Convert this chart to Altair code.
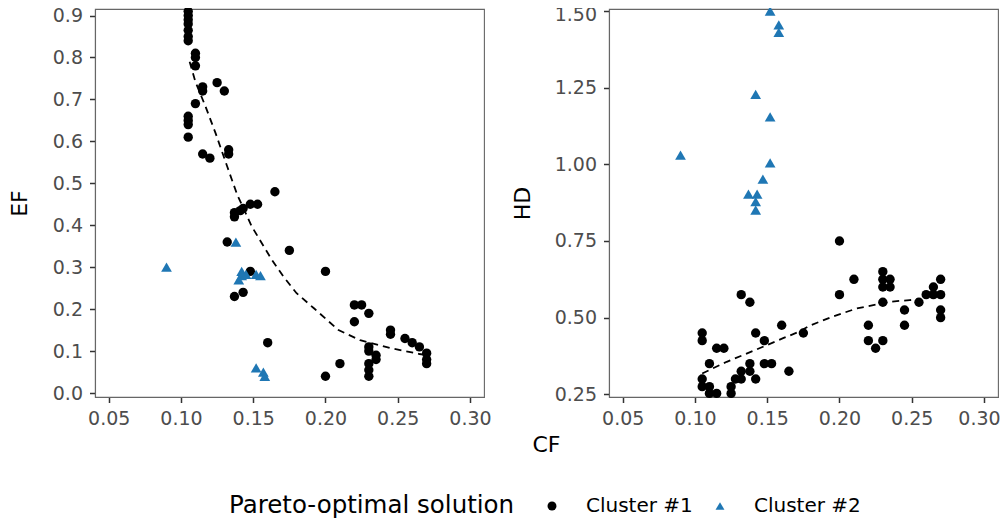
import altair as alt
import pandas as pd

# ---- Left panel: CF vs EF ----
left_c1_cf = [0.105, 0.105, 0.105, 0.105, 0.105, 0.105, 0.105, 0.105, 0.105, 0.105, 0.105,
              0.110, 0.110, 0.110, 0.110,
              0.115, 0.115, 0.115, 0.120, 0.125, 0.130, 0.133, 0.133, 0.132,
              0.137, 0.137, 0.137, 0.141, 0.143, 0.143, 0.148, 0.148, 0.153,
              0.160, 0.165, 0.175, 0.200, 0.200, 0.210, 0.220, 0.220, 0.225,
              0.230, 0.230, 0.230, 0.230, 0.230, 0.230, 0.235, 0.235,
              0.245, 0.245, 0.255, 0.260, 0.265, 0.270, 0.270, 0.270]
left_c1_ef = [0.91, 0.90, 0.89, 0.88, 0.865, 0.85, 0.84, 0.66, 0.65, 0.64, 0.61,
              0.81, 0.80, 0.78, 0.69,
              0.73, 0.72, 0.57, 0.56, 0.74, 0.72, 0.58, 0.57, 0.36,
              0.43, 0.42, 0.23, 0.435, 0.44, 0.24, 0.45, 0.29, 0.45,
              0.12, 0.48, 0.34, 0.29, 0.04, 0.07, 0.21, 0.17, 0.21,
              0.19, 0.11, 0.10, 0.07, 0.055, 0.04, 0.09, 0.08,
              0.15, 0.14, 0.13, 0.12, 0.11, 0.095, 0.08, 0.07]
left_c2_cf = [0.090, 0.138, 0.142, 0.142, 0.140, 0.145, 0.152, 0.155, 0.152, 0.157, 0.158]
left_c2_ef = [0.30, 0.36, 0.29, 0.28, 0.27, 0.283, 0.283, 0.28, 0.06, 0.05, 0.04]
left_fit_cf = [0.106, 0.110, 0.117, 0.124, 0.132, 0.139, 0.149, 0.163, 0.171, 0.180,
               0.192, 0.209, 0.224, 0.245, 0.265, 0.270]
left_fit_ef = [0.790, 0.742, 0.683, 0.619, 0.540, 0.472, 0.397, 0.317, 0.277, 0.238,
               0.202, 0.150, 0.126, 0.107, 0.093, 0.090]

# ---- Right panel: CF vs HD ----
right_c1_cf = [0.132, 0.138, 0.105, 0.105, 0.115, 0.120, 0.110, 0.105, 0.105, 0.110,
               0.115, 0.110, 0.125, 0.125, 0.142, 0.148, 0.138, 0.138, 0.132, 0.132,
               0.128, 0.142, 0.148, 0.153, 0.160, 0.165, 0.200, 0.210, 0.200, 0.175,
               0.230, 0.230, 0.230, 0.235, 0.235, 0.230, 0.220, 0.220, 0.225, 0.230,
               0.245, 0.245, 0.255, 0.260, 0.265, 0.270, 0.265, 0.270, 0.270, 0.270]
right_c1_hd = [0.575, 0.55, 0.45, 0.425, 0.40, 0.40, 0.35, 0.30, 0.275, 0.275,
               0.253, 0.253, 0.275, 0.253, 0.45, 0.425, 0.35, 0.325, 0.325, 0.30,
               0.30, 0.30, 0.35, 0.35, 0.475, 0.325, 0.75, 0.625, 0.575, 0.45,
               0.65, 0.625, 0.60, 0.625, 0.60, 0.55, 0.475, 0.425, 0.40, 0.425,
               0.525, 0.475, 0.55, 0.575, 0.60, 0.625, 0.575, 0.575, 0.525, 0.50]
right_c2_cf = [0.152, 0.158, 0.158, 0.142, 0.152, 0.090, 0.152, 0.147, 0.137, 0.143, 0.142, 0.142]
right_c2_hd = [1.50, 1.455, 1.43, 1.228, 1.155, 1.03, 1.005, 0.952, 0.903, 0.903, 0.878, 0.851]
right_fit_cf = [0.105, 0.122, 0.142, 0.161, 0.172, 0.179, 0.195, 0.212, 0.235, 0.2485, 0.255]
right_fit_hd = [0.318, 0.356, 0.395, 0.433, 0.454, 0.473, 0.503, 0.530, 0.552, 0.557, 0.560]

x_ticks = [0.05, 0.10, 0.15, 0.20, 0.25, 0.30]
left_y_ticks = [0.0, 0.1, 0.2, 0.3, 0.4, 0.5, 0.6, 0.7, 0.8, 0.9]
right_y_ticks = [0.25, 0.50, 0.75, 1.00, 1.25, 1.50]
clusters = ["Cluster #1", "Cluster #2"]
cluster_colors = ["#000000", "#1f77b4"]
cluster_shapes = ["circle", "triangle-up"]
cluster_sizes = [88, 115]

FONT = "DejaVu Sans"
LEGEND_TITLE = "Pareto-optimal solution"

color_scale = alt.Scale(domain=clusters, range=cluster_colors)
shape_scale = alt.Scale(domain=clusters, range=cluster_shapes)
x_scale = alt.Scale(domain=[0.0405, 0.3097], nice=False, zero=False)


def panel(c1_cf, c1_v, c2_cf, c2_v, fit_cf, fit_v, y_title, y_domain, y_ticks, y_fmt,
          title_x, is_left):
    if is_left:
        x_axis = alt.Axis(values=x_ticks, format=".2f", title="CF",
                          titleX=451, titleY=54, titleAlign="center",
                          titleBaseline="alphabetic", titleAngle=0)
    else:
        x_axis = alt.Axis(values=x_ticks, format=".2f", title=None,
                          labelOffset={"condition": {"test": "datum.value > 0.29", "value": -5},
                                       "value": 0})
    y_axis = alt.Axis(values=y_ticks, format=y_fmt, title=y_title, titleX=title_x,
                      titleBaseline="alphabetic", titleAngle=270,
                      labelOffset={"condition": {"test": "datum.value > 1.4", "value": 4},
                                   "value": 0})
    y_scale = alt.Scale(domain=y_domain, nice=False, zero=False)

    layers = [
        alt.Chart(pd.DataFrame({"CF": fit_cf, "V": fit_v})).mark_line(
            color="black", strokeDash=[7, 5], strokeWidth=1.8
        ).encode(
            x=alt.X("CF:Q", scale=x_scale, axis=x_axis),
            y=alt.Y("V:Q", scale=y_scale, axis=y_axis),
        )
    ]
    for name, size, cf, v in [(clusters[0], cluster_sizes[0], c1_cf, c1_v),
                              (clusters[1], cluster_sizes[1], c2_cf, c2_v)]:
        df = pd.DataFrame({"CF": cf, "V": v, "cluster": [name] * len(cf)})
        layers.append(
            alt.Chart(df).mark_point(filled=True, opacity=1, size=size).encode(
                x=alt.X("CF:Q", scale=x_scale),
                y=alt.Y("V:Q", scale=y_scale),
                color=alt.Color("cluster:N", scale=color_scale, title=LEGEND_TITLE),
                shape=alt.Shape("cluster:N", scale=shape_scale, title=LEGEND_TITLE),
            )
        )
    return alt.layer(*layers).properties(width=389, height=388)


left = panel(left_c1_cf, left_c1_ef, left_c2_cf, left_c2_ef, left_fit_cf, left_fit_ef,
             "EF", [-0.0095, 0.9156], left_y_ticks, ".1f", -69, True)
right = panel(right_c1_cf, right_c1_hd, right_c2_cf, right_c2_hd, right_fit_cf, right_fit_hd,
              "HD", [0.2412, 1.5065], right_y_ticks, ".2f", -80, False)

chart = alt.hconcat(left, right, spacing=125, bounds="flush").properties(
    autosize=alt.AutoSizeParams(type="none"),
    padding={"left": 87, "top": 1, "right": 905, "bottom": 505},
).configure_view(
    stroke="#666666", strokeWidth=1.1
).configure_axis(
    grid=False,
    labelFont=FONT, labelFontSize=19, labelColor="#4d4d4d", labelPadding=7,
    tickColor="#333333", tickSize=5.5, tickWidth=1.5,
    domainColor="#666666", domainWidth=1.1,
    titleFont=FONT, titleFontSize=22, titleColor="#000000", titleFontWeight="normal",
).configure_legend(
    orient="none", legendX=134, legendY=487,
    direction="horizontal", titleOrient="left",
    titleFont=FONT, titleFontSize=24.5, titleFontWeight="normal", titleColor="#000000",
    titleBaseline="middle", titlePadding=27, titleLimit=500,
    labelFont=FONT, labelFontSize=20, labelColor="#000000", labelOffset=24, labelLimit=300,
    symbolSize=80, symbolStrokeWidth=0, columnPadding=17,
)

chart.save("out.html", embed_options={"renderer": "svg", "actions": False})
